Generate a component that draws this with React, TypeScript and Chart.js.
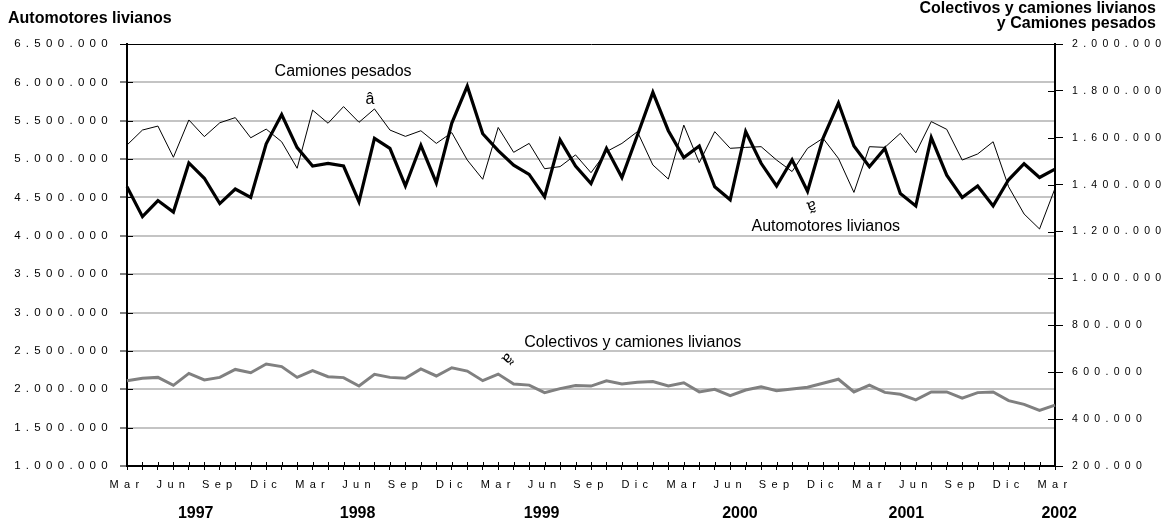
import React, { useEffect, useRef } from 'react';
import { Chart, registerables } from 'chart.js';

Chart.register(...registerables);

const FONT = '"Liberation Sans", Arial, Helvetica, sans-serif';

// Months (Spanish) — series runs monthly from Mar 1997 to Mar 2002
const MONTH_NAMES = ['Ene', 'Feb', 'Mar', 'Abr', 'May', 'Jun', 'Jul', 'Ago', 'Sep', 'Oct', 'Nov', 'Dic'];
const LABELED_MONTHS = ['Mar', 'Jun', 'Sep', 'Dic'];
const categories: string[] = [];
for (let k = 0; k < 61; k++) {
  const m = (2 + k) % 12;
  const y = 1997 + Math.floor((2 + k) / 12);
  categories.push(MONTH_NAMES[m] + ' ' + y);
}

// Year labels under the axis and the category they sit under
const yearLabels = ['1997', '1998', '1999', '2000', '2001', '2002'];
const yearLabelAnchors = [4.44, 14.91, 26.81, 39.63, 50.39, 60.27];

// Left axis: Automotores livianos
const automotoresLivianos = [
  4640000, 4250000, 4460000, 4310000, 4950000, 4750000, 4420000, 4610000, 4500000, 5200000,
  5580000, 5150000, 4910000, 4945000, 4910000, 4445000, 5270000, 5140000, 4650000, 5180000,
  4690000, 5470000, 5950000, 5330000, 5110000, 4920000, 4800000, 4510000, 5250000, 4910000,
  4680000, 5140000, 4760000, 5310000, 5870000, 5370000, 5020000, 5170000, 4640000, 4470000,
  5360000, 4945000, 4650000, 4990000, 4580000, 5270000, 5730000, 5170000, 4900000, 5140000,
  4550000, 4390000, 5280000, 4790000, 4500000, 4650000, 4390000, 4730000, 4940000, 4760000,
  4870000,
];

// Right axis: Camiones pesados
const camionesPesados = [
  1569000, 1633000, 1650000, 1517000, 1676000, 1605000, 1664000, 1686000, 1600000, 1637000,
  1583000, 1470000, 1718000, 1662000, 1733000, 1666000, 1723000, 1633000, 1606000, 1630000,
  1576000, 1622000, 1505000, 1423000, 1644000, 1538000, 1576000, 1468000, 1477000, 1527000,
  1451000, 1541000, 1576000, 1626000, 1484000, 1424000, 1654000, 1494000, 1626000, 1555000,
  1559000, 1562000, 1505000, 1456000, 1555000, 1598000, 1512000, 1367000, 1562000, 1559000,
  1619000, 1536000, 1669000, 1636000, 1505000, 1531000, 1583000, 1391000, 1275000, 1211000,
  1384000,
];

// Right axis: Colectivos y camiones livianos
const colectivosCamionesLivianos = [
  564000, 574000, 578000, 544000, 595000, 567000, 578000, 612000, 598000, 635000,
  624000, 578000, 607000, 581000, 577000, 541000, 591000, 578000, 574000, 614000,
  584000, 619000, 605000, 564000, 592000, 550000, 545000, 513000, 530000, 543000,
  541000, 563000, 550000, 557000, 560000, 541000, 555000, 516000, 527000, 500000,
  524000, 538000, 521000, 528000, 536000, 553000, 570000, 516000, 545000, 514000,
  506000, 482000, 516000, 516000, 489000, 513000, 516000, 479000, 463000, 437000,
  460000,
];

const LEFT_MIN = 1000000, LEFT_MAX = 6500000, LEFT_STEP = 500000;
const RIGHT_MIN = 200000, RIGHT_MAX = 2000000, RIGHT_STEP = 200000;

const leftTitle = 'Automotores livianos';
const rightTitle = ['Colectivos y camiones livianos', 'y Camiones pesados'];

// In-plot labels anchored in data coordinates: [text, category index, value, axis, rotation(deg)]
const seriesLabels: [string, number, number, string, number][] = [
  ['Camiones pesados', 13.97, 1883000, 'yRight', 0],
  ['\u00e2', 15.71, 1762000, 'yRight', 0],
  ['Automotores livianos', 45.18, 4115000, 'yLeft', 0],
  ['\u00e3', 44.26, 4390000, 'yLeft', 165],
  ['Colectivos y camiones livianos', 32.7, 727000, 'yRight', 0],
  ['\u00e3', 24.6, 659000, 'yRight', 135],
];

const fmt = (v: number) => String(Math.round(v)).replace(/\B(?=(\d{3})+(?!\d))/g, '.');

const spacingPlugin = {
  id: 'spacing',
  beforeDraw(chart: any) {
    chart.ctx.letterSpacing = '5.3px';
  },
  beforeDatasetsDraw(chart: any) {
    const ctx = chart.ctx;
    ctx.letterSpacing = '0px';
    // inner halves of the crossing tick marks
    const area = chart.chartArea;
    const yl = chart.scales.yLeft;
    const yr = chart.scales.yRight;
    const xs = chart.scales.x;
    ctx.save();
    ctx.strokeStyle = '#000';
    ctx.lineWidth = 1;
    ctx.beginPath();
    yl.ticks.forEach((t: any) => {
      const py = Math.round(yl.getPixelForValue(t.value)) + 0.5;
      ctx.moveTo(area.left, py);
      ctx.lineTo(area.left + 6, py);
    });
    yr.ticks.forEach((t: any) => {
      const py = Math.round(yr.getPixelForValue(t.value)) + 0.5;
      ctx.moveTo(area.right - 7, py);
      ctx.lineTo(area.right, py);
    });
    for (let i = 0; i < categories.length; i++) {
      const px = Math.round(xs.getPixelForValue(i)) + 0.5;
      ctx.moveTo(px, area.bottom - 4);
      ctx.lineTo(px, area.bottom);
    }
    ctx.stroke();
    ctx.restore();
  },
};

const textPlugin = {
  id: 'texts',
  afterDraw(chart: any) {
    const ctx = chart.ctx;
    const xs = chart.scales.x;
    ctx.save();
    ctx.letterSpacing = '0px';
    ctx.fillStyle = '#000';
    ctx.textBaseline = 'alphabetic';
    ctx.font = `bold 16px ${FONT}`;
    ctx.textAlign = 'left';
    ctx.fillText(leftTitle, 8, 23);
    ctx.textAlign = 'right';
    ctx.fillText(rightTitle[0], chart.width - 16, 13);
    ctx.fillText(rightTitle[1], chart.width - 16, 27.5);

    ctx.textAlign = 'center';
    yearLabels.forEach((y, i) => {
      ctx.fillText(y, xs.getPixelForValue(yearLabelAnchors[i]), 518);
    });

    ctx.font = `16px ${FONT}`;
    ctx.textBaseline = 'middle';
    seriesLabels.forEach(([txt, idx, val, axis, rot]) => {
      const px = xs.getPixelForValue(idx);
      const py = chart.scales[axis].getPixelForValue(val);
      ctx.save();
      ctx.translate(px, py);
      ctx.rotate((rot * Math.PI) / 180);
      ctx.fillText(txt, 0, 0);
      ctx.restore();
    });
    ctx.restore();
  },
};

export default function App() {
  const ref = useRef<HTMLCanvasElement | null>(null);

  useEffect(() => {
    if (!ref.current) return;
    const chart = new Chart(ref.current, {
      type: 'line',
      data: {
        labels: categories,
        datasets: [
          {
            label: 'Camiones pesados',
            data: camionesPesados,
            yAxisID: 'yRight',
            borderColor: '#000',
            borderWidth: 1,
            pointRadius: 0,
            tension: 0,
            fill: false,
          },
          {
            label: 'Automotores livianos',
            data: automotoresLivianos,
            yAxisID: 'yLeft',
            borderColor: '#000',
            borderWidth: 3.2,
            pointRadius: 0,
            tension: 0,
            fill: false,
          },
          {
            label: 'Colectivos y camiones livianos',
            data: colectivosCamionesLivianos,
            yAxisID: 'yRight',
            borderColor: '#808080',
            borderWidth: 3,
            pointRadius: 0,
            tension: 0,
            fill: false,
          },
        ],
      },
      options: {
        responsive: false,
        animation: false,
        devicePixelRatio: 1,
        layout: { padding: { top: 44, left: 0, right: 0, bottom: 0 } },
        plugins: {
          legend: { display: false },
          tooltip: { enabled: false },
          title: { display: false },
        },
        scales: {
          x: {
            type: 'category',
            offset: false,
            afterFit: (s: any) => {
              s.height = 56;
            },
            grid: {
              drawOnChartArea: false,
              drawTicks: true,
              tickLength: 4,
              tickColor: '#000',
              tickWidth: 1,
            },
            border: { display: true, color: '#000', width: 2 },
            ticks: {
              autoSkip: false,
              maxRotation: 0,
              minRotation: 0,
              padding: 8,
              color: '#000',
              font: { family: FONT, size: 11 },
              callback: (_v: any, i: number) => {
                const m = categories[i].split(' ')[0];
                return LABELED_MONTHS.includes(m) ? m : '';
              },
            },
          },
          yLeft: {
            type: 'linear',
            position: 'left',
            min: LEFT_MIN,
            max: LEFT_MAX,
            afterFit: (s: any) => {
              s.width = 127;
            },
            grid: {
              drawOnChartArea: true,
              drawTicks: true,
              tickLength: 7,
              tickColor: '#000',
              tickWidth: 1,
              color: (c: any) => (c.tick && c.tick.value === LEFT_MAX ? '#000' : '#c4c4c4'),
              lineWidth: (c: any) => (c.tick && c.tick.value === LEFT_MAX ? 1 : 2),
            },
            border: { display: true, color: '#000', width: 2 },
            ticks: {
              stepSize: LEFT_STEP,
              padding: 7,
              color: '#000',
              font: { family: FONT, size: 11.5 },
              callback: (v: any) => fmt(Number(v)),
            },
          },
          yRight: {
            type: 'linear',
            position: 'right',
            min: RIGHT_MIN,
            max: RIGHT_MAX,
            afterFit: (s: any) => {
              s.width = 117;
            },
            grid: {
              drawOnChartArea: false,
              drawTicks: true,
              tickLength: 8,
              tickColor: '#000',
              tickWidth: 1,
            },
            border: { display: true, color: '#000', width: 2 },
            ticks: {
              stepSize: RIGHT_STEP,
              padding: 9,
              color: '#000',
              font: { family: FONT, size: 10.5 },
              callback: (v: any) => fmt(Number(v)),
            },
          },
        },
      },
      plugins: [spacingPlugin, textPlugin],
    } as any);
    return () => chart.destroy();
  }, []);

  return (
    <div style={{ position: 'fixed', left: 0, top: 0, width: 1172, height: 522, background: '#fff' }}>
      <canvas ref={ref} width={1172} height={522} style={{ display: 'block' }} />
    </div>
  );
}
